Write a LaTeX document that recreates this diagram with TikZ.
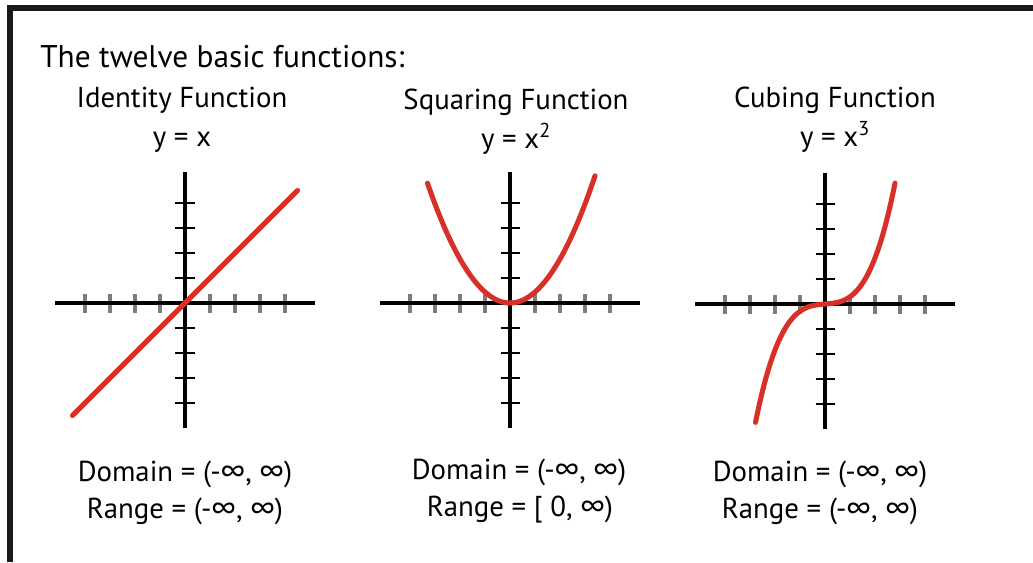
\documentclass[tikz,border=0pt]{standalone}
\usepackage{fontspec}
\setmainfont{PT Sans}
\definecolor{curvered}{RGB}{214,48,40}
\definecolor{tickgray}{RGB}{125,125,125}
\tikzset{
  lbl/.style={inner sep=0pt, font=\fontsize{20.5}{25}\selectfont},
  biglbl/.style={inner sep=0pt, font=\fontsize{22.3}{27}\selectfont},
  axis/.style={line width=2.2pt, black},
  xtick/.style={line width=2.4pt, tickgray},
  ytick/.style={line width=1.9pt, black},
  graph/.style={line width=3.6pt, curvered, line cap=round}
}
\begin{document}
\begin{tikzpicture}[x=0.025cm, y=-0.025cm]
  \useasboundingbox (0,0) rectangle (1033,562);
  % frame
  \draw[line width=4.3pt, black!90] (9.7,562) -- (9.7,8.3) -- (1033,8.3);

  % title and headings
  \node[biglbl, anchor=base west] (title) at (40,67) {The twelve basic functions:};
  \node[lbl, anchor=base] (idname) at (182,107) {Identity Function};
  \node[lbl, anchor=base] (idrule) at (182,146) {y = x};
  \node[lbl, anchor=base] (sqname) at (516,109) {Squaring Function};
  \node[lbl, anchor=base] (sqrule) at (516,148) {y = x\textsuperscript{2}};
  \node[lbl, anchor=base] (cuname) at (835,107) {Cubing Function};
  \node[lbl, anchor=base] (curule) at (835,146) {y = x\textsuperscript{3}};

  % axes with ticks
  \foreach \ox/\oy in {185/303, 510/303, 825/304} {
    \begin{scope}[shift={(\ox,\oy)}, x=0.625cm, y=0.625cm]
      \foreach \t in {-4,-3,-2,-1,1,2,3,4} {
        \draw[xtick] (\t,-0.38) -- (\t,0.38);
        \draw[ytick] (-0.38,\t) -- (0.38,\t);
      }
      \draw[axis] (-5.2,0) -- (5.2,0);
      \draw[axis] (0,-5.0) -- (0,5.25);
    \end{scope}
  }

  % the three graphs
  \begin{scope}[shift={(185,303)}, x=0.625cm, y=0.625cm]
    \draw[graph] (-4.5,-4.5) -- (4.5,4.5);
  \end{scope}
  \begin{scope}[shift={(510,303)}, x=0.625cm, y=0.625cm]
    \draw[graph, domain=-3.3:3.4, samples=80] plot (\x, {0.44*\x*\x});
  \end{scope}
  \begin{scope}[shift={(825,304)}, x=0.625cm, y=0.625cm]
    \draw[graph, domain=-2.78:2.8, samples=80] plot (\x, {0.08*\x + 0.21*\x*\x*\x});
  \end{scope}

  % domain and range
  \node[lbl, anchor=base] (iddom) at (185,481) {Domain = (-∞, ∞)};
  \node[lbl, anchor=base] (idran) at (185,518) {Range = (-∞, ∞)};
  \node[lbl, anchor=base] (sqdom) at (519,479) {Domain = (-∞, ∞)};
  \node[lbl, anchor=base] (sqran) at (520,516) {Range = [ 0, ∞)};
  \node[lbl, anchor=base] (cudom) at (820,481) {Domain = (-∞, ∞)};
  \node[lbl, anchor=base] (curan) at (820,518) {Range = (-∞, ∞)};
\end{tikzpicture}
\end{document}
